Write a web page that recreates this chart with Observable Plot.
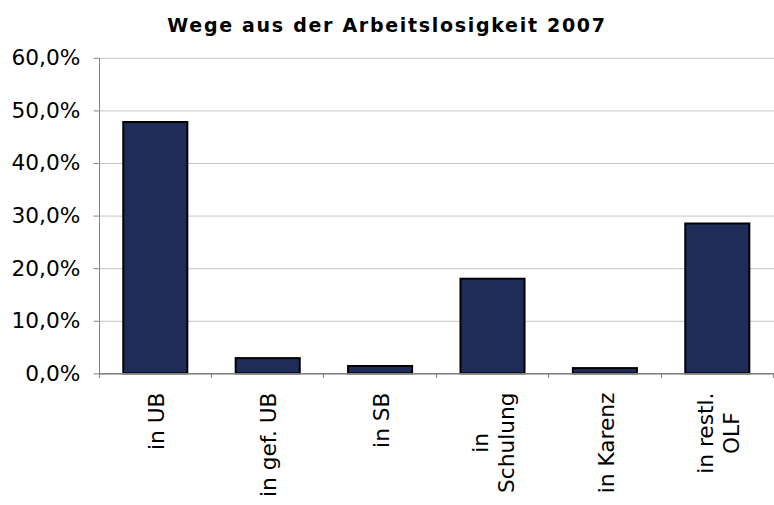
<!DOCTYPE html>
<html>
<head>
<meta charset="utf-8">
<script src="https://cdn.jsdelivr.net/npm/d3@7"></script>
<script src="https://cdn.jsdelivr.net/npm/@observablehq/plot@0.6"></script>
<style>
  html, body { margin: 0; padding: 0; background: #fff; overflow: hidden; width: 774px; height: 505px; }
  #title { width: 774px; height: 46px; box-sizing: border-box; padding-top: 16px; text-align: center;
           font-family: "DejaVu Sans", sans-serif; font-weight: bold; font-size: 19px; line-height: 19px;
           letter-spacing: 1.7px; color: #000; }
  #chart svg { display: block; }
</style>
</head>
<body>
<div id="title">Wege aus der Arbeitslosigkeit 2007</div>
<div id="chart"></div>
<script>
const categories = ["in UB", "in gef. UB", "in SB", "in Schulung", "in Karenz", "in restl. OLF"];
const categoryLabels = ["in UB", "in gef. UB", "in SB", "in\nSchulung", "in Karenz", "in restl.\nOLF"];
const shares = [47.8, 2.9, 1.4, 18.0, 1.0, 28.5];
const yTicks = [0, 10, 20, 30, 40, 50, 60];

const data = categories.map((c, i) => ({category: c, label: categoryLabels[i], share: shares[i]}));

function axisLines(index, scales, channels, dims) {
  const {x, y} = scales;
  const step = x(categories[1]) - x(categories[0]);
  const g = d3.create("svg:g").attr("stroke", "#808080").attr("stroke-width", 1).attr("shape-rendering", "crispEdges");
  const y0 = y(0);
  g.append("line").attr("x1", dims.marginLeft + 0.5).attr("x2", dims.marginLeft + 0.5)
    .attr("y1", y(yTicks[yTicks.length - 1])).attr("y2", y0 + 5);
  for (let i = 0; i <= categories.length; i++) {
    const bx = dims.marginLeft + i * step;
    g.append("line").attr("x1", bx + 0.5).attr("x2", bx + 0.5).attr("y1", y0).attr("y2", y0 + 5);
  }
  return g.node();
}

const chart = Plot.plot({
  width: 785,
  height: 459,
  marginLeft: 100,
  marginRight: 0,
  marginTop: 12,
  marginBottom: 127,
  style: {fontFamily: "DejaVu Sans, sans-serif", fontSize: "22px", color: "#000", background: "#fff", overflow: "visible"},
  x: {domain: categories, paddingInner: 0.43, paddingOuter: 0.215, axis: null},
  y: {domain: [0, 60], axis: null},
  marks: [
    Plot.gridY(yTicks, {stroke: "#c4c4c4", strokeOpacity: 1}),
    Plot.barY(data, {x: "category", y: "share", fill: "#1f2c58", stroke: "#000", strokeWidth: 2}),
    Plot.ruleY([0], {stroke: "#808080", strokeWidth: 1.5}),
    Plot.axisY({ticks: yTicks, label: null, tickSize: 5, tickPadding: 14, stroke: "#808080", strokeOpacity: 1, fill: "#000",
      fontSize: 22, tickFormat: d => d.toFixed(1).replace(".", ",") + "%"}),
    axisLines,
    Plot.text(data, {x: "category", y: () => 0, text: "label", rotate: -90, textAnchor: "end", lineAnchor: "middle",
      lineHeight: 1.18, dy: 19, fontSize: 22, fill: "#000", className: "xlab"})
  ]
});

document.getElementById("chart").append(chart);

// centre the lines of each label within its own block, block top-aligned below the axis
chart.querySelectorAll(".xlab text").forEach(t => {
  const L = t.getBBox().width;
  t.setAttribute("text-anchor", "middle");
  t.setAttribute("transform", (t.getAttribute("transform") || "") + ` translate(${-L / 2},0)`);
});
</script>
</body>
</html>
